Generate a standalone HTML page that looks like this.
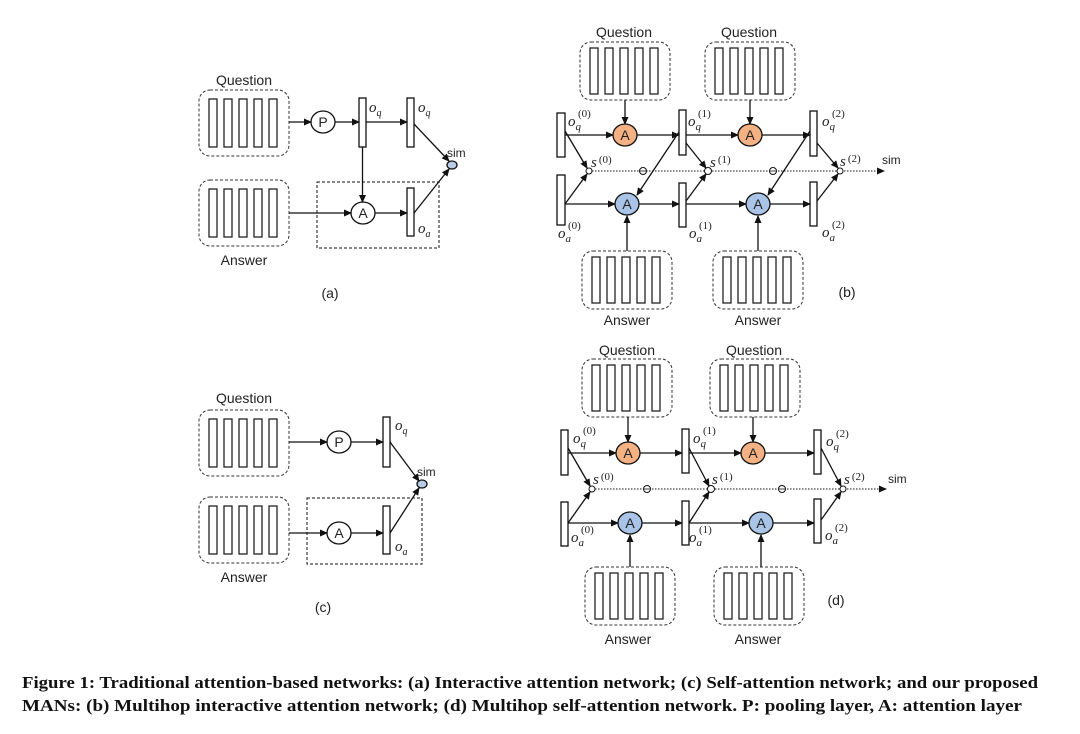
<!DOCTYPE html>
<html><head><meta charset="utf-8"><style>
html,body{margin:0;padding:0;background:#fff;}
svg{display:block;}
.lb{font-family:"Liberation Sans",sans-serif;font-size:14px;fill:#222;}
.it{font-family:"Liberation Serif",serif;font-style:italic;font-size:15px;fill:#222;}
.sp{font-family:"Liberation Serif",serif;font-style:normal;font-size:11px;}
.cap{font-family:"Liberation Serif",serif;font-weight:bold;font-size:17px;fill:#111;}
</style></head><body>
<svg width="1080" height="734" viewBox="0 0 1080 734" xmlns="http://www.w3.org/2000/svg">
<defs>
<marker id="ar" markerWidth="8" markerHeight="8" refX="7" refY="4" orient="auto" markerUnits="userSpaceOnUse"><path d="M0,0.5 L8,4 L0,7.5 z" fill="#111"/></marker>
<g id="box">
<rect x="0" y="0" width="90" height="66" rx="11" fill="none" stroke="#333" stroke-width="1" stroke-dasharray="3,2"/>
<rect x="10" y="9" width="8" height="48" fill="#fff" stroke="#222" stroke-width="1.3"/>
<rect x="25" y="9" width="8" height="48" fill="#fff" stroke="#222" stroke-width="1.3"/>
<rect x="40" y="9" width="8" height="48" fill="#fff" stroke="#222" stroke-width="1.3"/>
<rect x="55" y="9" width="8" height="48" fill="#fff" stroke="#222" stroke-width="1.3"/>
<rect x="70" y="9" width="8" height="48" fill="#fff" stroke="#222" stroke-width="1.3"/>
</g>
<g id="box2">
<rect x="0" y="0" width="90" height="58" rx="11" fill="none" stroke="#333" stroke-width="1" stroke-dasharray="3,2"/>
<rect x="10" y="6" width="8" height="46" fill="#fff" stroke="#222" stroke-width="1.3"/>
<rect x="25" y="6" width="8" height="46" fill="#fff" stroke="#222" stroke-width="1.3"/>
<rect x="40" y="6" width="8" height="46" fill="#fff" stroke="#222" stroke-width="1.3"/>
<rect x="55" y="6" width="8" height="46" fill="#fff" stroke="#222" stroke-width="1.3"/>
<rect x="70" y="6" width="8" height="46" fill="#fff" stroke="#222" stroke-width="1.3"/>
</g>
</defs>
<g stroke="#111" stroke-width="1.3" fill="none">

<!-- (a) -->
<use href="#box" x="199" y="90"/>
<use href="#box" x="199" y="180"/>
<rect x="317" y="182" width="122" height="66" stroke-dasharray="3,2" stroke-width="1"/>
<rect x="359" y="98" width="7" height="49" fill="#fff"/>
<rect x="407" y="98" width="7" height="49" fill="#fff"/>
<rect x="407" y="188" width="7" height="48" fill="#fff"/>
<ellipse cx="323" cy="122" rx="12" ry="11" fill="#fff"/>
<ellipse cx="363" cy="213" rx="12" ry="11" fill="#fff"/>
<ellipse cx="452" cy="165" rx="5" ry="4" fill="#b9cde6"/>
<line x1="289" y1="122" x2="311" y2="122" marker-end="url(#ar)"/>
<line x1="335" y1="122" x2="359" y2="122" marker-end="url(#ar)"/>
<line x1="366" y1="122" x2="407" y2="122" marker-end="url(#ar)"/>
<line x1="362.5" y1="147" x2="362.5" y2="202" marker-end="url(#ar)"/>
<line x1="289" y1="213" x2="351" y2="213" marker-end="url(#ar)"/>
<line x1="375" y1="213" x2="407" y2="213" marker-end="url(#ar)"/>
<line x1="414" y1="124" x2="449" y2="161" marker-end="url(#ar)"/>
<line x1="414" y1="213" x2="449" y2="169" marker-end="url(#ar)"/>

<!-- (c) -->
<use href="#box" x="199" y="410"/>
<use href="#box" x="199" y="497"/>
<rect x="307" y="498" width="115" height="66" stroke-dasharray="3,2" stroke-width="1"/>
<rect x="383" y="417" width="7" height="50" fill="#fff"/>
<rect x="383" y="506" width="7" height="48" fill="#fff"/>
<ellipse cx="339" cy="442" rx="12" ry="11" fill="#fff"/>
<ellipse cx="339" cy="533" rx="12" ry="11" fill="#fff"/>
<ellipse cx="422" cy="484" rx="5" ry="4" fill="#b9cde6"/>
<line x1="289" y1="442" x2="327" y2="442" marker-end="url(#ar)"/>
<line x1="351" y1="442" x2="383" y2="442" marker-end="url(#ar)"/>
<line x1="289" y1="533" x2="327" y2="533" marker-end="url(#ar)"/>
<line x1="351" y1="533" x2="383" y2="533" marker-end="url(#ar)"/>
<line x1="390" y1="442" x2="419" y2="481" marker-end="url(#ar)"/>
<line x1="390" y1="533" x2="419" y2="488" marker-end="url(#ar)"/>

<!-- (b) -->
<use href="#box2" x="580" y="42"/>
<use href="#box2" x="705" y="42"/>
<use href="#box2" x="582" y="251"/>
<use href="#box2" x="713" y="251"/>
<rect x="557" y="113" width="8" height="44" fill="#fff"/>
<rect x="679" y="110" width="7" height="45" fill="#fff"/>
<rect x="810" y="111" width="7" height="45" fill="#fff"/>
<rect x="557" y="175" width="8" height="50" fill="#fff"/>
<rect x="679" y="183" width="7" height="44" fill="#fff"/>
<rect x="810" y="182" width="7" height="44" fill="#fff"/>
<line x1="589" y1="171" x2="884" y2="171" stroke-dasharray="1.5,1.5" stroke-width="1" marker-end="url(#ar)"/>
<circle cx="643" cy="171" r="3.5" fill="#fff" stroke-width="1"/><line x1="640" y1="171" x2="646" y2="171" stroke-width="0.8"/>
<circle cx="773" cy="171" r="3.5" fill="#fff" stroke-width="1"/><line x1="770" y1="171" x2="776" y2="171" stroke-width="0.8"/>
<line x1="565" y1="135" x2="613" y2="135" marker-end="url(#ar)"/>
<line x1="637" y1="135" x2="679" y2="135" marker-end="url(#ar)"/>
<line x1="686" y1="135" x2="738" y2="135" marker-end="url(#ar)"/>
<line x1="762" y1="135" x2="810" y2="135" marker-end="url(#ar)"/>
<line x1="625" y1="100" x2="625" y2="124" marker-end="url(#ar)"/>
<line x1="750" y1="100" x2="750" y2="124" marker-end="url(#ar)"/>
<line x1="565" y1="204" x2="615" y2="204" marker-end="url(#ar)"/>
<line x1="639" y1="204" x2="679" y2="204" marker-end="url(#ar)"/>
<line x1="686" y1="204" x2="746" y2="204" marker-end="url(#ar)"/>
<line x1="770" y1="204" x2="810" y2="204" marker-end="url(#ar)"/>
<line x1="627" y1="251" x2="627" y2="216" marker-end="url(#ar)"/>
<line x1="758" y1="251" x2="758" y2="216" marker-end="url(#ar)"/>
<line x1="565" y1="131" x2="587" y2="168" marker-end="url(#ar)"/>
<line x1="565" y1="204" x2="587" y2="174" marker-end="url(#ar)"/>
<line x1="679" y1="132" x2="637" y2="195" marker-end="url(#ar)"/>
<line x1="686" y1="143" x2="706" y2="168" marker-end="url(#ar)"/>
<line x1="686" y1="201" x2="706" y2="174" marker-end="url(#ar)"/>
<line x1="810" y1="131" x2="768" y2="195" marker-end="url(#ar)"/>
<line x1="817" y1="143" x2="838" y2="168" marker-end="url(#ar)"/>
<line x1="817" y1="201" x2="838" y2="174" marker-end="url(#ar)"/>
<circle cx="589" cy="171" r="3" fill="#fff" stroke-width="1"/>
<circle cx="708" cy="171" r="3.5" fill="#fff" stroke-width="1"/>
<circle cx="840" cy="171" r="3" fill="#fff" stroke-width="1"/>
<ellipse cx="625" cy="135" rx="12" ry="11" fill="#f4b183"/>
<ellipse cx="750" cy="135" rx="12" ry="11" fill="#f4b183"/>
<ellipse cx="627" cy="204" rx="12" ry="11" fill="#a9c4e6"/>
<ellipse cx="758" cy="204" rx="12" ry="11" fill="#a9c4e6"/>

<!-- (d) -->
<use href="#box2" x="582" y="359"/>
<use href="#box2" x="710" y="359"/>
<use href="#box2" x="585" y="567"/>
<use href="#box2" x="714" y="567"/>
<rect x="561" y="430" width="7" height="45" fill="#fff"/>
<rect x="682" y="429" width="7" height="44" fill="#fff"/>
<rect x="814" y="430" width="7" height="44" fill="#fff"/>
<rect x="561" y="502" width="7" height="44" fill="#fff"/>
<rect x="682" y="501" width="7" height="44" fill="#fff"/>
<rect x="814" y="499" width="7" height="44" fill="#fff"/>
<line x1="592" y1="489" x2="886" y2="489" stroke-dasharray="1.5,1.5" stroke-width="1" marker-end="url(#ar)"/>
<circle cx="647" cy="489" r="3.5" fill="#fff" stroke-width="1"/><line x1="644" y1="489" x2="650" y2="489" stroke-width="0.8"/>
<circle cx="782" cy="489" r="3.5" fill="#fff" stroke-width="1"/><line x1="779" y1="489" x2="785" y2="489" stroke-width="0.8"/>
<line x1="568" y1="453" x2="616" y2="453" marker-end="url(#ar)"/>
<line x1="640" y1="453" x2="682" y2="453" marker-end="url(#ar)"/>
<line x1="689" y1="453" x2="741" y2="453" marker-end="url(#ar)"/>
<line x1="765" y1="453" x2="814" y2="453" marker-end="url(#ar)"/>
<line x1="628" y1="417" x2="628" y2="442" marker-end="url(#ar)"/>
<line x1="753" y1="417" x2="753" y2="442" marker-end="url(#ar)"/>
<line x1="568" y1="523" x2="618" y2="523" marker-end="url(#ar)"/>
<line x1="642" y1="523" x2="682" y2="523" marker-end="url(#ar)"/>
<line x1="689" y1="523" x2="749" y2="523" marker-end="url(#ar)"/>
<line x1="773" y1="523" x2="814" y2="523" marker-end="url(#ar)"/>
<line x1="630" y1="567" x2="630" y2="535" marker-end="url(#ar)"/>
<line x1="761" y1="567" x2="761" y2="535" marker-end="url(#ar)"/>
<line x1="568" y1="448" x2="590" y2="486" marker-end="url(#ar)"/>
<line x1="568" y1="523" x2="590" y2="492" marker-end="url(#ar)"/>
<line x1="689" y1="448" x2="709" y2="486" marker-end="url(#ar)"/>
<line x1="689" y1="523" x2="709" y2="492" marker-end="url(#ar)"/>
<line x1="821" y1="448" x2="841" y2="486" marker-end="url(#ar)"/>
<line x1="821" y1="520" x2="841" y2="492" marker-end="url(#ar)"/>
<circle cx="592" cy="489" r="3" fill="#fff" stroke-width="1"/>
<circle cx="711" cy="489" r="3.5" fill="#fff" stroke-width="1"/>
<circle cx="843" cy="489" r="3" fill="#fff" stroke-width="1"/>
<ellipse cx="628" cy="453" rx="12" ry="11" fill="#f4b183"/>
<ellipse cx="753" cy="453" rx="12" ry="11" fill="#f4b183"/>
<ellipse cx="630" cy="523" rx="12" ry="11" fill="#a9c4e6"/>
<ellipse cx="761" cy="523" rx="12" ry="11" fill="#a9c4e6"/>
</g>

<!-- labels -->
<g class="lb" text-anchor="middle">
<text x="244" y="85">Question</text>
<text x="244" y="265">Answer</text>
<text x="323" y="127">P</text>
<text x="363" y="218">A</text>
<text x="330" y="298">(a)</text>
<text x="244" y="403">Question</text>
<text x="244" y="582">Answer</text>
<text x="339" y="447">P</text>
<text x="339" y="538">A</text>
<text x="323" y="612">(c)</text>
<text x="624" y="37">Question</text>
<text x="749" y="37">Question</text>
<text x="627" y="325">Answer</text>
<text x="758" y="325">Answer</text>
<text x="625" y="140">A</text><text x="750" y="140">A</text>
<text x="627" y="209">A</text><text x="758" y="209">A</text>
<text x="847" y="297">(b)</text>
<text x="627" y="355">Question</text>
<text x="754" y="355">Question</text>
<text x="628" y="644">Answer</text>
<text x="758" y="644">Answer</text>
<text x="628" y="458">A</text><text x="753" y="458">A</text>
<text x="630" y="528">A</text><text x="761" y="528">A</text>
<text x="836" y="605">(d)</text>
</g>
<g class="lb">
<text x="447" y="157" style="font-size:12px">sim</text>
<text x="417" y="476" style="font-size:12px">sim</text>
<text x="882" y="164" style="font-size:12px">sim</text>
<text x="888" y="483" style="font-size:12px">sim</text>
</g>
<g class="it">
<text x="369" y="112">o<tspan font-size="10" dy="4">q</tspan></text>
<text x="418" y="112">o<tspan font-size="10" dy="4">q</tspan></text>
<text x="418" y="233">o<tspan font-size="10" dy="4">a</tspan></text>
<text x="395" y="430">o<tspan font-size="10" dy="4">q</tspan></text>
<text x="395" y="551">o<tspan font-size="10" dy="4">a</tspan></text>

<text x="568" y="126">o<tspan font-size="11" dy="4">q</tspan><tspan class="sp" dx="-3" dy="-13">(0)</tspan></text>
<text x="688" y="126">o<tspan font-size="11" dy="4">q</tspan><tspan class="sp" dx="-3" dy="-13">(1)</tspan></text>
<text x="822" y="126">o<tspan font-size="11" dy="4">q</tspan><tspan class="sp" dx="-3" dy="-13">(2)</tspan></text>
<text x="558" y="238">o<tspan font-size="11" dy="4">a</tspan><tspan class="sp" dx="-3" dy="-13">(0)</tspan></text>
<text x="689" y="238">o<tspan font-size="11" dy="4">a</tspan><tspan class="sp" dx="-3" dy="-13">(1)</tspan></text>
<text x="822" y="237">o<tspan font-size="11" dy="4">a</tspan><tspan class="sp" dx="-3" dy="-13">(2)</tspan></text>
<text x="591" y="167">s<tspan class="sp" dx="2" dy="-4">(0)</tspan></text>
<text x="710" y="167">s<tspan class="sp" dx="2" dy="-4">(1)</tspan></text>
<text x="840" y="166">s<tspan class="sp" dx="2" dy="-4">(2)</tspan></text>

<text x="573" y="443">o<tspan font-size="11" dy="4">q</tspan><tspan class="sp" dx="-3" dy="-13">(0)</tspan></text>
<text x="693" y="443">o<tspan font-size="11" dy="4">q</tspan><tspan class="sp" dx="-3" dy="-13">(1)</tspan></text>
<text x="826" y="446">o<tspan font-size="11" dy="4">q</tspan><tspan class="sp" dx="-3" dy="-13">(2)</tspan></text>
<text x="571" y="542">o<tspan font-size="11" dy="4">a</tspan><tspan class="sp" dx="-3" dy="-13">(0)</tspan></text>
<text x="689" y="542">o<tspan font-size="11" dy="4">a</tspan><tspan class="sp" dx="-3" dy="-13">(1)</tspan></text>
<text x="825" y="540">o<tspan font-size="11" dy="4">a</tspan><tspan class="sp" dx="-3" dy="-13">(2)</tspan></text>
<text x="593" y="484">s<tspan class="sp" dx="2" dy="-4">(0)</tspan></text>
<text x="712" y="484">s<tspan class="sp" dx="2" dy="-4">(1)</tspan></text>
<text x="844" y="484">s<tspan class="sp" dx="2" dy="-4">(2)</tspan></text>
</g>

<text class="cap" x="22" y="688" textLength="1016" lengthAdjust="spacingAndGlyphs">Figure 1:  Traditional attention-based networks: (a) Interactive attention network; (c) Self-attention network; and our proposed</text>
<text class="cap" x="22" y="711" textLength="1000" lengthAdjust="spacingAndGlyphs">MANs: (b) Multihop interactive attention network; (d) Multihop self-attention network. P: pooling layer, A: attention layer</text>
</svg>
</body></html>
